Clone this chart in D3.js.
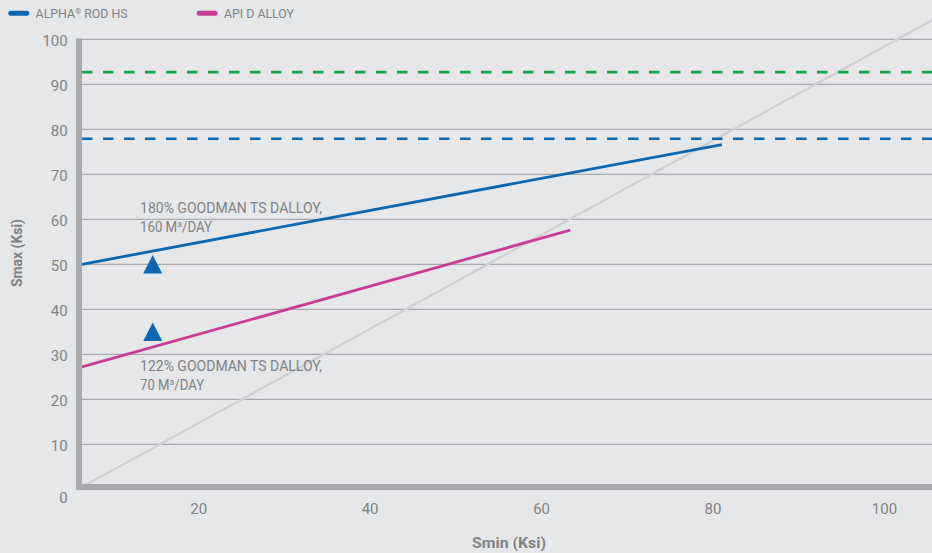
<!DOCTYPE html>
<html>
<head>
<meta charset="utf-8">
<script src="https://cdn.jsdelivr.net/npm/d3@7"></script>
<style>
  html, body { margin: 0; padding: 0; background: #e6e7e8; }
  svg { display: block; }
  text { font-family: "Liberation Sans Narrow", "Roboto", "Liberation Sans", sans-serif; }
</style>
</head>
<body>
<svg id="chart" width="932" height="553"></svg>
<script>
// ---- data ----
const xTicks = [20, 40, 60, 80, 100];
const yTicks = [0, 10, 20, 30, 40, 50, 60, 70, 80, 90, 100];
const xDomain = [6.45, 105.6];
const yDomain = [0, 100];

const seriesNames = ["ALPHA\u00AE ROD HS", "API D ALLOY"];
const seriesColors = ["#0a67b2", "#c93c93"];
const alphaLine = [[6.45, 50], [81.1, 76.6]];
const apiLine = [[6.45, 27.2], [63.4, 57.6]];
const refLine = [[6.45, 0.5], [105.6, 104.2]];

const limitValues = [92.7, 77.9];
const limitColors = ["#12a54f", "#0a67b2"];

const markerPoints = [[14.7, 50], [14.7, 35]];

const notes = [
  { x: 14.7, y: 61.3, lines: ["180% GOODMAN TS DALLOY,", "160 M\u00B3/DAY"], widths: [182, 72] },
  { x: 14.7, y: 26.2, lines: ["122% GOODMAN TS DALLOY,", "70 M\u00B3/DAY"], widths: [182, 64] }
];

// ---- layout ----
const svg = d3.select("#chart");
const W = 932, H = 553;
const plotLeft = 82, plotRight = 932, plotTop = 39.3, plotBottom = 489.3;

const x = d3.scaleLinear().domain(xDomain).range([plotLeft, plotRight]);
const y = d3.scaleLinear().domain(yDomain).range([plotBottom, plotTop]);

const grey = "#a7a9ac";
const textGrey = "#7f8285";

svg.append("rect").attr("width", W).attr("height", H).attr("fill", "#e6e7e8");

// horizontal gridlines
svg.append("g")
  .selectAll("line")
  .data(yTicks.filter(d => d > 0))
  .join("line")
  .attr("x1", plotLeft).attr("x2", plotRight)
  .attr("y1", d => y(d)).attr("y2", d => y(d))
  .attr("stroke", grey).attr("stroke-width", 1.2);

const line = d3.line().x(d => x(d[0])).y(d => y(d[1]));

// 1:1 reference diagonal
svg.append("path")
  .attr("d", line(refLine))
  .attr("fill", "none")
  .attr("stroke", "#cfd0d2")
  .attr("stroke-width", 2.4);

// horizontal dashed limits
svg.append("g")
  .selectAll("line")
  .data(limitValues)
  .join("line")
  .attr("x1", plotLeft).attr("x2", plotRight)
  .attr("y1", d => y(d)).attr("y2", d => y(d))
  .attr("stroke", (d, i) => limitColors[i])
  .attr("stroke-width", 2.6)
  .attr("stroke-dasharray", "10.5 10.5");

// series lines
[alphaLine, apiLine].forEach((pts, i) => {
  svg.append("path")
    .attr("d", line(pts))
    .attr("fill", "none")
    .attr("stroke", seriesColors[i])
    .attr("stroke-width", 2.8);
});

// triangle markers, box centred on the data point
const triW = 19, triH = 18.5;
svg.append("g")
  .selectAll("path")
  .data(markerPoints)
  .join("path")
  .attr("d", d => {
    const cx = x(d[0]), cy = y(d[1]);
    return `M${cx},${cy - triH / 2}L${cx + triW / 2},${cy + triH / 2}L${cx - triW / 2},${cy + triH / 2}Z`;
  })
  .attr("fill", seriesColors[0]);

// annotations
notes.forEach(n => {
  const g = svg.append("g");
  n.lines.forEach((ln, k) => {
    g.append("text")
      .attr("x", x(n.x) - 12.7)
      .attr("y", y(n.y) + k * 18.7)
      .attr("fill", textGrey)
      .attr("font-size", 14)
      .attr("textLength", n.widths[k])
      .attr("lengthAdjust", "spacingAndGlyphs")
      .text(ln);
  });
});

// axis bars
svg.append("rect").attr("x", 76).attr("y", 38.3).attr("width", 6).attr("height", 451.7).attr("fill", grey);
svg.append("rect").attr("x", 76).attr("y", 484).attr("width", W - 76).attr("height", 6).attr("fill", grey);

// y axis labels
const yAxis = svg.append("g")
  .attr("transform", `translate(${plotLeft},0)`)
  .call(d3.axisLeft(y).tickValues(yTicks).tickSize(0).tickPadding(14.3).tickFormat(d3.format("d")));
yAxis.select(".domain").remove();
yAxis.selectAll("text")
  .attr("font-size", 15)
  .attr("fill", textGrey)
  .attr("font-family", null)
  .attr("dy", d => d === 0 ? "0.85em" : "0.42em");

// x axis labels
const xAxis = svg.append("g")
  .attr("transform", `translate(0,${plotBottom})`)
  .call(d3.axisBottom(x).tickValues(xTicks).tickSize(0).tickPadding(14).tickFormat(d3.format("d")));
xAxis.select(".domain").remove();
xAxis.selectAll("text")
  .attr("font-size", 15)
  .attr("fill", textGrey)
  .attr("font-family", null);

// axis titles
svg.append("text")
  .attr("transform", "translate(21.5,253) rotate(-90)")
  .attr("text-anchor", "middle")
  .attr("font-size", 15)
  .attr("font-weight", "bold")
  .attr("fill", textGrey)
  .attr("textLength", 68)
  .attr("lengthAdjust", "spacingAndGlyphs")
  .text("Smax (Ksi)");
svg.append("text")
  .attr("x", 509).attr("y", 548.3)
  .attr("text-anchor", "middle")
  .attr("font-size", 15)
  .attr("font-weight", "bold")
  .attr("fill", textGrey)
  .attr("textLength", 74)
  .attr("lengthAdjust", "spacingAndGlyphs")
  .text("Smin (Ksi)");

// legend
const legendX = [8.3, 196.7];
const legendW = [92, 70];
const legend = svg.append("g");
seriesNames.forEach((name, i) => {
  legend.append("line")
    .attr("x1", legendX[i] + 2.5).attr("x2", legendX[i] + 18.5)
    .attr("y1", 13.3).attr("y2", 13.3)
    .attr("stroke", seriesColors[i])
    .attr("stroke-width", 5)
    .attr("stroke-linecap", "round");
  const t = legend.append("text")
    .attr("x", legendX[i] + 27.3)
    .attr("y", 17.7)
    .attr("font-size", 12.5)
    .attr("fill", textGrey)
    .attr("textLength", legendW[i])
    .attr("lengthAdjust", "spacingAndGlyphs");
  const idx = name.indexOf("\u00AE");
  if (idx >= 0) {
    t.append("tspan").text(name.slice(0, idx));
    t.append("tspan").text("\u00AE").attr("font-size", 8).attr("dy", -4);
    t.append("tspan").text(name.slice(idx + 1)).attr("dy", 4);
  } else {
    t.text(name);
  }
});
</script>
</body>
</html>
